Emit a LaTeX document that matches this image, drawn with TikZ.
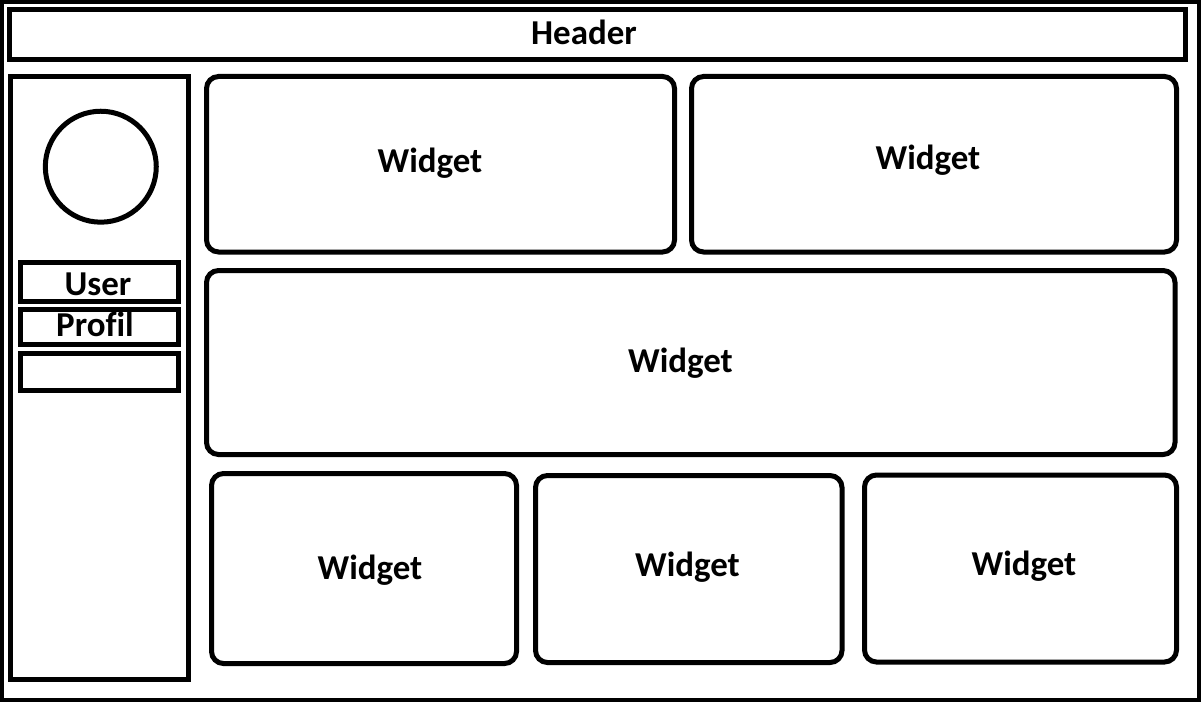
\documentclass[tikz,border=0pt]{standalone}
\usepackage{fontspec}
\setmainfont{Carlito}[Ligatures=NoCommon]
\tikzset{
  frame/.style={draw,line width=3pt},
  pane/.style={draw,line width=3.75pt},
  widgetbox/.style={draw,line width=3.75pt,rounded corners=9pt},
  lbl/.style={anchor=base,inner sep=0pt,font=\fontsize{26.2}{30}\selectfont\bfseries}
}
\begin{document}
\begin{tikzpicture}[x=0.75pt,y=-0.75pt]
\useasboundingbox (0,0) rectangle (1201,702);
\fill[white] (0,0) rectangle (1201,702);

% page frame, header and sidebar
\draw[frame] (2,2) rectangle (1198.5,699.5);
\draw[pane] (9.5,9.5) rectangle (1185,60);
\node[lbl] (header) at (584,45) {Header};
\draw[pane] (10.5,76.5) rectangle (188,679);
\draw[pane] (100.8,166.7) circle[radius=41.6pt];
\draw[pane] (20.5,262) rectangle (178.5,301);
\draw[pane] (20.5,309.5) rectangle (178.5,344.5);
\draw[pane] (20.5,353) rectangle (178.5,390);
\node[lbl] (user) at (98,295) {User};
\node[lbl] (profil) at (95,336.5) {Profil};

% widgets
\draw[widgetbox] (206.5,76.5) rectangle (674.5,252);
\draw[widgetbox] (691.5,76.5) rectangle (1176.5,252);
\draw[widgetbox] (206.5,270.5) rectangle (1175,454.5);
\draw[widgetbox] (211.5,473.5) rectangle (516.5,663.5);
\draw[widgetbox] (535.5,475.5) rectangle (842,662.5);
\draw[widgetbox] (864.5,475) rectangle (1176.5,662);
\node[lbl] (w1) at (430,173) {Widget};
\node[lbl] (w2) at (928,169.3) {Widget};
\node[lbl] (w3) at (680.5,372.7) {Widget};
\node[lbl] (w4) at (370,579) {Widget};
\node[lbl] (w5) at (687.5,576.7) {Widget};
\node[lbl] (w6) at (1024,575.7) {Widget};
\end{tikzpicture}
\end{document}
